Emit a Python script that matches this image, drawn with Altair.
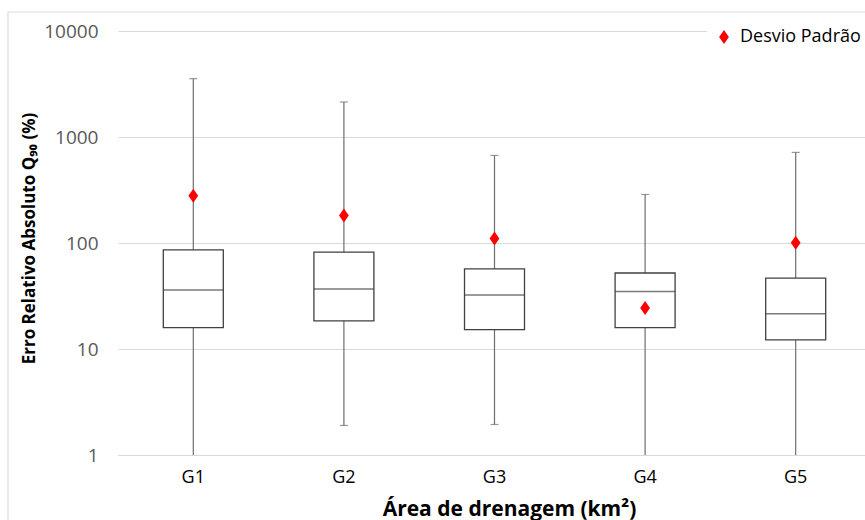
import altair as alt
import pandas as pd

groups = ["G1", "G2", "G3", "G4", "G5"]
whisker_low = [0.5, 1.9, 1.94, 0.5, 0.5]
q1 = [15.9, 18.4, 15.2, 15.9, 12.2]
median = [36.0, 36.8, 32.3, 34.9, 21.5]
q3 = [86.0, 82.0, 56.9, 52.1, 46.7]
whisker_high = [3550, 2140, 670, 287, 716]
std_dev = [279, 182, 110, 24.4, 100.7]
legend_label = "Desvio Padrão"

df = pd.DataFrame({
    "grupo": groups,
    "lo": whisker_low,
    "q1": q1,
    "med": median,
    "q3": q3,
    "hi": whisker_high,
    "sd": std_dev,
    "serie": [legend_label] * len(groups),
})

FONT = "Open Sans"
DIAMOND = "M0,-1L0.7,0L0,1L-0.7,0Z"

x_enc = alt.X(
    "grupo:N",
    sort=groups,
    scale=alt.Scale(paddingInner=0, paddingOuter=0, range=[0, 753]),
    axis=alt.Axis(
        title="Área de drenagem (km²)",
        titleFont=FONT, titleFontSize=21, titleFontWeight="bold", titleColor="#000000",
        titleX=391, titleY=60, titleBaseline="alphabetic",
        labelFont=FONT, labelFontSize=18, labelColor="#000000", labelAngle=0,
        labelPadding=13, ticks=False, domain=True, domainColor="#d9d9d9", domainWidth=1,
        grid=False,
    ),
)
y_scale = alt.Scale(type="log", domain=[1, 10000], nice=False)
y_axis = alt.Axis(
    title="Erro Relativo Absoluto  Q₉₀ (%)",
    titleFont=FONT, titleFontSize=17, titleFontWeight="bold", titleColor="#000000",
    titleAngle=270, titleX=-89, titleY=207, titleAlign="center", titleBaseline="middle",
    values=[1, 10, 100, 1000, 10000], format="d",
    labelFont=FONT, labelFontSize=19, labelColor="#595959", labelPadding=20,
    ticks=False, domain=False, grid=True, gridColor="#d9d9d9", gridWidth=1,
)

base = alt.Chart(df)

whiskers = base.mark_rule(color="#6e6e6e", strokeWidth=1.2, clip=True).encode(
    x=x_enc,
    y=alt.Y("lo:Q", scale=y_scale, axis=y_axis),
    y2="hi:Q",
)
caps_hi = base.mark_tick(color="#6e6e6e", size=8, thickness=1.2, clip=True).encode(
    x=alt.X("grupo:N", sort=groups), y=alt.Y("hi:Q")
)
caps_lo = base.mark_tick(color="#6e6e6e", size=8, thickness=1.2, clip=True).encode(
    x=alt.X("grupo:N", sort=groups), y=alt.Y("lo:Q")
)
boxes = base.mark_bar(size=60, fill="#ffffff", stroke="#404040", strokeWidth=1.3).encode(
    x=alt.X("grupo:N", sort=groups), y=alt.Y("q1:Q"), y2="q3:Q"
)
medians = base.mark_tick(color="#404040", size=60, thickness=1.4).encode(
    x=alt.X("grupo:N", sort=groups), y=alt.Y("med:Q")
)
points = base.mark_point(filled=True, shape=DIAMOND, size=196, opacity=1).encode(
    x=alt.X("grupo:N", sort=groups),
    y=alt.Y("sd:Q"),
    color=alt.Color(
        "serie:N",
        scale=alt.Scale(domain=[legend_label], range=["#ff0000"]),
        legend=alt.Legend(
            title=None, orient="none", legendX=589, legendY=-11, padding=8,
            fillColor="#ffffff", labelFont=FONT, labelFontSize=18, labelColor="#000000",
            symbolType=DIAMOND, symbolSize=196, symbolStrokeWidth=0, labelOffset=7,
        ),
    ),
)

frame_df = pd.DataFrame({"k": [0]})
frame_left = alt.Chart(frame_df).mark_rule(color="#d9d9d9", strokeWidth=1.2).encode(
    x=alt.value(-110), y=alt.value(-19), y2=alt.value(489)
)
frame_top = alt.Chart(frame_df).mark_rule(color="#d9d9d9", strokeWidth=1.2).encode(
    x=alt.value(-110), x2=alt.value(747), y=alt.value(-19)
)

chart = alt.layer(
    frame_left, frame_top, whiskers, caps_hi, caps_lo, boxes, medians, points
).properties(
    width=747, height=424,
    background="#ffffff",
    autosize=alt.AutoSizeParams(type="none"),
    padding={"left": 118, "top": 31, "right": 0, "bottom": 65},
).configure_view(
    stroke="transparent"
).configure_axisY(
    domain=False, ticks=False
).configure_axisX(grid=False, ticks=False)

chart.save("out.html", embed_options={"renderer": "svg", "actions": False})
